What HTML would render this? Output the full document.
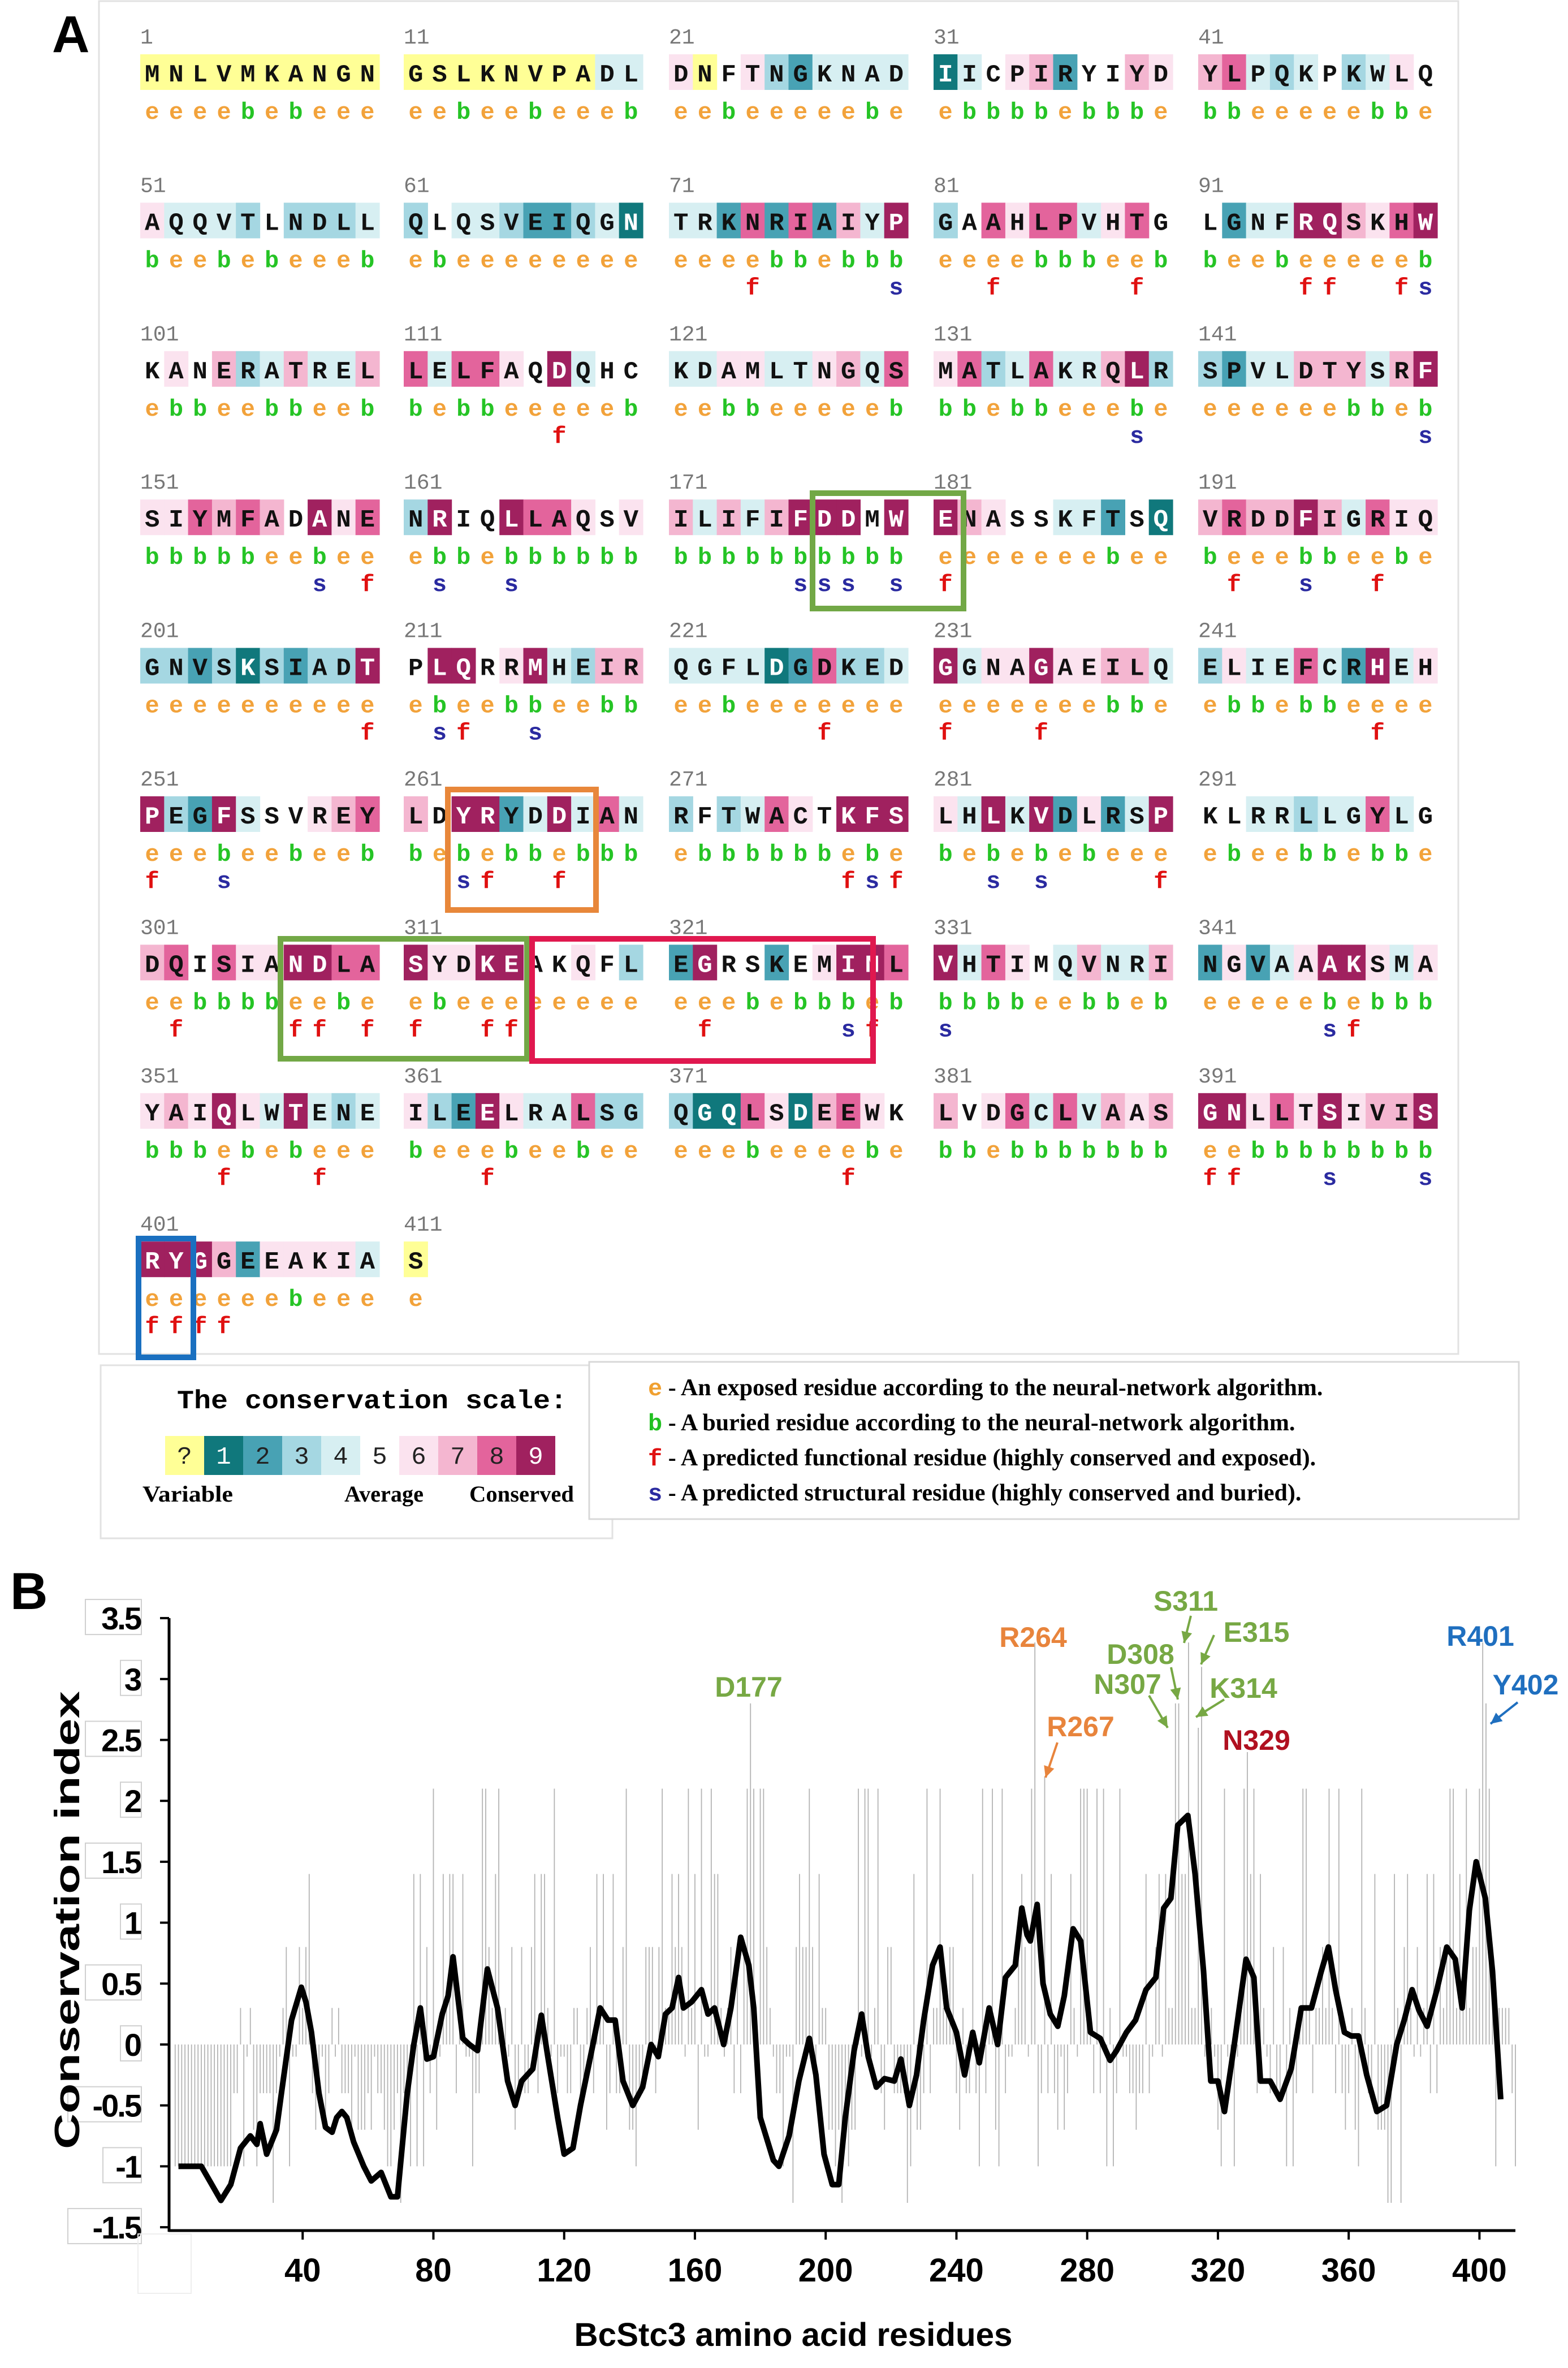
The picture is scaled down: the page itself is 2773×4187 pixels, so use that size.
<!DOCTYPE html>
<html><head><meta charset="utf-8"><style>
html,body{margin:0;padding:0;background:#fff;}
svg{display:block;}
</style></head><body>
<svg id="fig" xmlns="http://www.w3.org/2000/svg" width="2773" height="4187" viewBox="0 0 2773 4187">
<rect x="0" y="0" width="2773" height="4187" fill="#fff"/>
<g id="panelA">
<rect x="175" y="2" width="2404" height="2392" fill="none" stroke="#e2e2e2" stroke-width="3"/>
<text x="92" y="92" font-family="Liberation Sans, sans-serif" font-weight="bold" font-size="92">A</text>
<g id="seqg"></g>
<g id="boxes">
<rect x="1437" y="872" width="267" height="204" fill="none" stroke="#72a846" stroke-width="10"/>
<rect x="792" y="1396" width="262" height="213" fill="none" stroke="#e8873a" stroke-width="10"/>
<rect x="496" y="1660" width="436" height="212" fill="none" stroke="#72a846" stroke-width="10"/>
<rect x="941" y="1660" width="603" height="216" fill="none" stroke="#e0184f" stroke-width="10"/>
<rect x="245" y="2190" width="97" height="210" fill="none" stroke="#1a70c0" stroke-width="10"/>
</g>
</g>
<g id="legend">
<rect x="178" y="2414" width="905" height="306" fill="#fff" stroke="#e2e2e2" stroke-width="3"/>
<rect x="1042" y="2408" width="1644" height="278" fill="#fff" stroke="#d8d8d8" stroke-width="3"/>
<text x="313" y="2490" font-family="Liberation Mono, monospace" font-weight="bold" font-size="46" textLength="690" lengthAdjust="spacingAndGlyphs">The conservation scale:</text>
<g id="scaleBoxes"></g>
<text x="252" y="2655" font-family="Liberation Serif, serif" font-weight="bold" font-size="40" textLength="160" lengthAdjust="spacingAndGlyphs">Variable</text>
<text x="609" y="2655" font-family="Liberation Serif, serif" font-weight="bold" font-size="40" textLength="140" lengthAdjust="spacingAndGlyphs">Average</text>
<text x="830" y="2655" font-family="Liberation Serif, serif" font-weight="bold" font-size="40" textLength="185" lengthAdjust="spacingAndGlyphs">Conserved</text>
<g font-family="Liberation Serif, serif" font-weight="bold" font-size="42">
<text x="1146" y="2467"><tspan fill="#f0a030" font-family="Liberation Mono, monospace">e</tspan> - An exposed residue according to the neural-network algorithm.</text>
<text x="1146" y="2529"><tspan fill="#22c022" font-family="Liberation Mono, monospace">b</tspan> - A buried residue according to the neural-network algorithm.</text>
<text x="1146" y="2591"><tspan fill="#e01010" font-family="Liberation Mono, monospace">f</tspan> - A predicted functional residue (highly conserved and exposed).</text>
<text x="1146" y="2653"><tspan fill="#2a2aa0" font-family="Liberation Mono, monospace">s</tspan> - A predicted structural residue (highly conserved and buried).</text>
</g>
</g>
<g id="panelB">
<text x="18" y="2845" font-family="Liberation Sans, sans-serif" font-weight="bold" font-size="92">B</text>
<g id="bars"></g>
<g id="axes"></g>
<path id="smooth" fill="none" stroke="#000" stroke-width="10" stroke-linejoin="round"/>
<g id="annots" font-family="Liberation Sans Narrow, Liberation Sans, sans-serif" font-weight="bold" font-size="50"></g>
<text x="1403" y="4148" text-anchor="middle" font-family="Liberation Sans Narrow, Liberation Sans, sans-serif" font-weight="bold" font-size="58" textLength="775" lengthAdjust="spacingAndGlyphs">BcStc3 amino acid  residues</text>
<text transform="translate(140,3395) rotate(-90)" text-anchor="middle" font-family="Liberation Sans, sans-serif" font-weight="bold" font-size="62" textLength="810" lengthAdjust="spacingAndGlyphs">Conservation index</text>
</g>
</svg>
<script>
// ---------- Panel A data ----------
const seqBlocks = ["MNLVMKANGN","GSLKNVPADL","DNFTNGKNAD","IICPIRYIYD","YLPQKPKWLQ",
"AQQVTLNDLL","QLQSVEIQGN","TRKNRIAIYP","GAAHLPVHTG","LGNFRQSKHW",
"KANERATREL","LELFAQDQHC","KDAMLTNGQS","MATLAKRQLR","SPVLDTYSRF",
"SIYMFADANE","NRIQLLAQSV","ILIFIFDDMW","ENASSKFTSQ","VRDDFIGRIQ",
"GNVSKSIADT","PLQRRMHEIR","QGFLDGDKED","GGNAGAEILQ","ELIEFCRHEH",
"PEGFSSVREY","LDYRYDDIAN","RFTWACTKFS","LHLKVDLRSP","KLRRLLGYLG",
"DQISIANDLA","SYDKEAKQFL","EGRSKEMINL","VHTIMQVNRI","NGVAAAKSMA",
"YAIQLWTENE","ILEELRALSG","QGQLSDEEWK","LVDGCLVAAS","GNLLTSIVIS",
"RYGGEEAKIA","S"];
const gradeBlocks = ["0000000000","0000000044","6056324444","1456725576","7843453465",
"6444353334","3544322341","4428282749","3586884685","5244997689",
"5657347447","8488659455","4466446748","6834844793","3244777479",
"6687875968","3955988656","7474799959","9765544251","7877974866",
"3323132339","5995694377","4444128334","9466966774","3644842946",
"9329455678","7599249484","3534865999","6494926249","5544344845",
"7858669988","9669955653","2955256998","9486547447","2624699646",
"6769649434","6329644833","3118617865","7568484767","9968696779",
"9997266664","0"];
const burialBlocks = ["eeeebebeee","eebeebeeeb","eebeeeeebe","ebbbbebbbe","bbeeeeebbe",
"beebebeeeb","ebeeeeeeee","eeeebbebbb","eeeebbbeeb","beebeeeeeb",
"ebbeebbeeb","bebbeeeeeb","eebbeeeeeb","bbebbeeebe","eeeeeebbeb",
"bbbbbeebee","ebbebbbbbb","bbbbbbbbbb","eeeeeeebee","beeebbeebe",
"eeeeeeeeee","ebeebbeebb","eebeeeeeee","eeeeeeebbe","ebbebbeeee",
"eeebeebeeb","bebebbebbb","ebbbbbbebe","bebebebeee","ebeebbebbe",
"eebbbbeebe","ebeeeeeeee","eeebebbbeb","bbbbeebbeb","eeeeebebbb",
"bbbebebeee","beeebeebee","eeebeeeebe","bbebbbbbbb","eebbbbbbbb",
"eeeeeebeee","e"];
const markBlocks = ["..........","..........","..........","..........","..........",
"..........","..........","...f.....s","..f.....f.","....ff..fs",
"..........","......f...","..........","........s.",".........s",
".......s.f",".s..s.....",".....sss.s","f.........",".f..s..f..",
".........f",".sf..s....","......f...","f...f.....",".......f..",
"f..s......","..sf..f...",".......fsf","..s.s....f","..........",
".f....ff.f","f..ff.....",".f.....sf.","s.........",".....sf...",
"...f...f..","...f......",".......f..","..........","ff...s...s",
"ffff......",".........."];
const gradeColors = ["#ffff96","#10787c","#48a2b4","#a5d7e2","#d7eff2","#ffffff","#fbe3ef","#f4b6d0","#e3649c","#a0215f"];

const NS = "http://www.w3.org/2000/svg";
function mk(tag, attrs, parent){const e=document.createElementNS(NS,tag);for(const k in attrs)e.setAttribute(k,attrs[k]);parent.appendChild(e);return e;}

const seqg = document.getElementById('seqg');
const colX = [248,714,1183,1651,2119];
const cw = 42.3;
for(let b=0;b<seqBlocks.length;b++){
  const r=Math.floor(b/5), c=b%5;
  const base = 64 + r*262.4;
  const x0 = colX[c];
  const num = mk('text',{x:x0,y:base+13,'font-family':'Liberation Mono, monospace','font-size':38,fill:'#777'},seqg);
  num.textContent = String(b*10+1);
  
  
  const s=seqBlocks[b], g=gradeBlocks[b], bu=burialBlocks[b], m=markBlocks[b];
  for(let i=0;i<s.length;i++){
    const gr=+g[i];
    const x=x0+i*cw;
    if(gr!==5){
      const rc=mk('rect',{x:x,y:base+32,width:cw+0.6,height:63,fill:gradeColors[gr]},seqg);
      
      
    }
    const t=mk('text',{x:x+cw/2,y:base+80,'text-anchor':'middle','font-family':'Liberation Mono, monospace','font-weight':'bold','font-size':44,fill:(gr===9||gr===1)?'#fff':'#111'},seqg);
    t.textContent=s[i];
    
    
    const e=mk('text',{x:x+cw/2,y:base+146,'text-anchor':'middle','font-family':'Liberation Mono, monospace','font-weight':'bold','font-size':42,fill:bu[i]==='e'?'#f2a23a':'#25c425'},seqg);
    e.textContent=bu[i];
    
    
    if(m[i]&&m[i]!=='.'){
      const f=mk('text',{x:x+cw/2,y:base+194,'text-anchor':'middle','font-family':'Liberation Mono, monospace','font-weight':'bold','font-size':42,fill:m[i]==='f'?'#e01010':'#2a2aa0'},seqg);
      f.textContent=m[i];
      
      
    }
  }
}
// scale boxes
const scaleLabels=["?","1","2","3","4","5","6","7","8","9"];
const sb=document.getElementById('scaleBoxes');
for(let i=0;i<10;i++){
  const x=292+i*69;
  const r=mk('rect',{x:x,y:2539,width:69,height:69,fill:gradeColors[i]},sb);
  
  
  const t=mk('text',{x:x+34.5,y:2588,'text-anchor':'middle','font-family':'Liberation Mono, monospace','font-size':44,fill:(i===1||i===9)?'#fff':'#222'},sb);
  t.textContent=scaleLabels[i];
  
  
}

// ---------- Panel B chart data ----------
const barValues = [
-1,-1,-1,-1,-1,-1,-1,-1,-1,-1,
-1,-1,-1,-1,-1,-1,-1,-1,-.4,-.4,
.3,-1,-.1,.3,-.7,-1,-.4,-.4,-.4,-.4,
-1.3,-.4,-.1,.3,.8,-1,-.1,-.1,.8,.3,
.8,1.4,-.4,-.7,-.4,-.1,-.7,-.4,.3,-.1,
.3,-.4,-.4,-.4,-.7,-.1,-.7,-.7,-.7,-.4,
-.7,-.1,-.4,-.4,-.7,-1,-1,-.7,-.4,-1.3,
-.4,-.4,-1,1.4,-1,1.4,-1,.8,-.4,2.1,
-.7,-.1,1.4,.3,1.4,1.4,-.4,.3,1.4,-.1,
-.1,-1,-.4,-.4,2.1,2.1,.8,.3,1.4,2.1,
-.1,.3,-.1,.8,-.7,-.4,.8,-.4,-.4,.8,
1.4,-.4,1.4,1.4,.3,-.1,2.1,-.4,-.1,-.1,
-.4,-.4,.3,.3,-.4,-.4,.3,.8,-.4,1.4,
.3,1.4,-.7,-.4,1.4,-.4,-.4,.8,2.1,-.7,
-.7,-1,-.4,-.4,.8,.8,.8,-.4,.8,2.1,
.3,.3,1.4,.8,1.4,.8,-.1,2.1,.3,1.4,
-.7,2.1,-.1,-.1,2.1,1.4,1.4,.3,-.1,.3,
.8,-.4,.8,-.4,.8,2.1,2.8,2.1,-.1,2.1,
2.1,.8,.3,-.1,-.4,-.4,-1,-.1,-.1,-1.3,
.8,1.4,.8,.8,2.1,.8,-.4,1.4,.3,.3,
-.7,-.7,-1,-.7,-1.3,-.7,-1,-.7,-.7,2.1,
-.1,2.1,2.1,-.1,.3,2.1,-.4,-.7,.8,.8,
-.4,-.4,-.4,-.4,-1.3,-1,1.4,-.7,-.7,-.4,
2.1,-.4,.3,.3,2.1,.3,.3,.8,.8,-.4,
-.7,.3,-.4,-.4,1.4,-.4,-1,2.1,-.4,.3,
2.1,-.7,-1,2.1,-.4,-.1,-.1,.3,.8,1.4,
.8,-.1,2.1,3.3,-1,-.4,2.2,-.4,1.4,-.4,
-.7,-.1,-.7,-.4,1.4,.3,-.1,2.1,2.1,2.1,
.3,-.4,2.1,-.4,2.1,-1,.3,-1,-.4,2.1,
-.1,-.1,-.4,-.4,-.7,-.4,-.4,1.4,-.4,-.1,
.8,1.4,-.1,1.4,.3,.3,2.8,2.8,1.4,1.4,
3.3,.3,.3,2.6,3.1,-.1,-.1,.3,-.1,-.7,
-1,2.1,-.1,-.1,-1,-.1,.3,2.1,2.4,1.4,
2.1,-.4,1.4,.3,-.1,-.4,.8,-.4,-.4,.8,
-1,.3,-1,-.4,.3,2.1,2.1,.3,-.4,.3,
.3,.8,.3,2.1,.3,-.4,2.1,-.4,-.7,-.4,
.3,-.7,-1,2.1,.3,-.4,-.4,1.4,-.7,-.7,
-.7,-1.3,-1.3,1.4,.3,-1.3,.8,1.4,.3,-.1,
.8,-.1,.3,1.4,-.4,1.4,-.4,.8,.3,.8,
2.1,2.1,.3,1.4,.3,2.1,.3,.8,.8,2.1,
3.3,2.8,2.1,.8,-1,.3,.3,.3,.3,-.4,
-1];
const lineRes = [2,9,15,18,21,24,26,27,29,32,33.5,36.6,39.6,41,42.7,45,47,49,50.4,52,53.5,55.6,58.7,61,64,67,69,72,74,76,78,80,82.7,84.5,86,89,91,93.5,96.5,99.6,102.7,105,107,110.4,113,115,118,120,122.7,125,128.8,131,133.4,135.6,138,141,144,146.6,148.8,151,153,155,156.5,159,162,164,166,168.8,171,174,176.5,178,180,184,185.7,188.8,191.8,195,197,199.5,202,204,206,208.7,211,213,215.5,218,221,223,225.6,227.8,230,232.7,235,237,240,242.5,245,247,250,252.6,255,258,260,261.6,262.6,264.7,266.5,268.7,271,273,275.7,278,281,284,287,289,292,294.8,298,301,303.4,305.6,307.7,310.8,313,315.6,317.8,320,322,325,328.6,331,333,336,339,342.4,345.5,348.6,351.6,353.8,356,358.7,360.8,363,365.5,368.6,371.6,374.7,377,379.4,381.5,384,387,390,392.6,394.7,396.9,399,401.8,404,406.5];
const lineVal = [-1,-1,-1.28,-1.15,-.85,-.75,-.82,-.65,-.9,-.7,-.4,.2,.47,.35,.1,-.4,-.68,-.72,-.6,-.55,-.6,-.8,-1,-1.12,-1.05,-1.25,-1.25,-.4,0,.3,-.12,-.1,.25,.4,.72,.05,0,-.05,.62,.3,-.3,-.5,-.3,-.2,.24,-.1,-.6,-.9,-.85,-.5,0,.3,.2,.2,-.3,-.5,-.35,0,-.1,.25,.3,.55,.3,.35,.45,.25,.3,0,.3,.88,.65,.3,-.6,-.95,-1,-.75,-.3,.05,-.25,-.9,-1.15,-1.15,-.6,-.05,.25,-.1,-.35,-.28,-.3,-.12,-.5,-.25,.2,.65,.8,.3,.1,-.25,.1,-.15,.3,0,.55,.65,1.12,.9,.85,1.15,.5,.25,.15,.4,.95,.85,.1,.05,-.13,-.05,.1,.2,.45,.55,1.12,1.2,1.8,1.88,1.4,.6,-.3,-.3,-.55,0,.7,.55,-.3,-.3,-.45,-.2,.3,.3,.6,.8,.45,.1,.07,.07,-.25,-.55,-.5,0,.2,.45,.28,.15,.45,.8,.7,.3,1.1,1.5,1.2,.6,-.45];
const yTicks = [3.5,3,2.5,2,1.5,1,0.5,0,-0.5,-1,-1.5];
const xTicks = [40,80,120,160,200,240,280,320,360,400];
const annLabels = ["D177","R264","R267","N307","D308","S311","K314","E315","N329","R401","Y402"];
const annResidues = [177,264,267,307,308,311,314,315,329,401,402];

// axis functions
const X0=304, XPR=5.781, Y0=3615, YPU=215.4;
function xs(r){return X0+r*XPR;}
function ys(v){return Y0-v*YPU;}

const barsG=document.getElementById('bars');
for(let i=0;i<barValues.length;i++){
  const x=xs(i+1);
  const l=mk('line',{x1:x,x2:x,y1:ys(0),y2:ys(barValues[i]),stroke:'#b4b4b4','stroke-width':1.8},barsG);
  
  
}
let d='';
for(let i=0;i<lineRes.length;i++){d+=(i?'L':'M')+xs(lineRes[i]).toFixed(1)+','+ys(lineVal[i]).toFixed(1);}
document.getElementById('smooth').setAttribute('d',d);

const ax=document.getElementById('axes');
const ya=mk('line',{x1:299,x2:299,y1:ys(3.5),y2:ys(-1.5)+8,stroke:'#000','stroke-width':5},ax);


const xa=mk('line',{x1:298,x2:xs(411),y1:3944,y2:3944,stroke:'#000','stroke-width':5},ax);


for(const v of yTicks){
  const y=ys(v);
  const tk=mk('line',{x1:283,x2:299,y1:y,y2:y,stroke:'#000','stroke-width':4},ax);
  
  
  const lab=String(v);
  const w=lab.length*31+6;
  const bx=mk('rect',{x:250-w,y:y-33,width:w,height:62,fill:'#fff',stroke:'#d0d0d0','stroke-width':2},ax);
  
  
  const t=mk('text',{x:248,y:y+20,'text-anchor':'end','font-family':'Liberation Sans, sans-serif','font-weight':'bold','font-size':56,'letter-spacing':'-3'},ax);
  t.textContent=lab;
  
  
}
for(const v of xTicks){
  const x=xs(v);
  const tk=mk('line',{x1:x,x2:x,y1:3944,y2:3960,stroke:'#000','stroke-width':4},ax);
  
  
  const t=mk('text',{x:x,y:4034,'text-anchor':'middle','font-family':'Liberation Sans Narrow, Liberation Sans, sans-serif','font-weight':'bold','font-size':58},ax);
  t.textContent=String(v);
  
  
}
const ob=mk('rect',{x:244,y:3950,width:94,height:105,fill:'none',stroke:'#eee','stroke-width':2},ax);



// annotations (label position, color, arrow)
const annPos = [[1324,3000,'#77a844'],[1827,2912,'#e8843c'],[1911,3070,'#e8843c'],[1994,2995,'#77a844'],[2017,2942,'#77a844'],[2097,2848,'#77a844'],[2199,3002,'#77a844'],[2222,2903,'#77a844'],[2222,3094,'#b01020'],[2618,2910,'#1f6fbf'],[2698,2996,'#1f6fbf']];
const arrows = [null,null,[1870,3081,1849,3143,'#e8843c'],[2032,2998,2065,3055,'#77a844'],[2071,2948,2083,3005,'#77a844'],[2106,2857,2094,2905,'#77a844'],[2165,3005,2115,3036,'#77a844'],[2147,2891,2124,2943,'#77a844'],null,null,[2684,3010,2636,3048,'#1f6fbf']];
const an=document.getElementById('annots');
for(let i=0;i<annLabels.length;i++){
  const p=annPos[i];
  const t=mk('text',{x:p[0],y:p[1],'text-anchor':'middle',fill:p[2]},an);
  t.textContent=annLabels[i];
  
  
  const a=arrows[i];
  if(a){
    const l=mk('line',{x1:a[0],y1:a[1],x2:a[2],y2:a[3],stroke:a[4],'stroke-width':4},an);
    
    
    const ang=Math.atan2(a[3]-a[1],a[2]-a[0]);
    const L=22,W=0.45;
    const p1=[a[2]-L*Math.cos(ang-W),a[3]-L*Math.sin(ang-W)];
    const p2=[a[2]-L*Math.cos(ang+W),a[3]-L*Math.sin(ang+W)];
    const h=mk('polygon',{points:a[2]+','+a[3]+' '+p1.join(',')+' '+p2.join(','),fill:a[4]},an);
    
    
  }
}
</script>
</body></html>
